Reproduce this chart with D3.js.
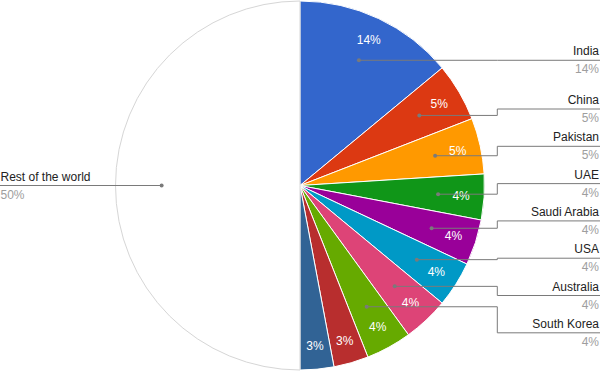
<!DOCTYPE html>
<html>
<head>
<meta charset="utf-8">
<script src="https://cdn.jsdelivr.net/npm/d3@7"></script>
<style>
  body { margin: 0; background: #fff; }
  text { font-family: Arial, "Liberation Sans", sans-serif; }
</style>
</head>
<body>
<div id="chart"></div>
<script>
// categories (the two smallest slices carry no label in the original)
const countries = ["India", "China", "Pakistan", "UAE", "Saudi Arabia", "USA",
                   "Australia", "South Korea", "", "", "Rest of the world"];
const shares = [14, 5.1, 4.9, 4, 4, 4, 4, 4, 3.05, 2.95, 50];
const colors = ["#3366cc", "#dc3912", "#ff9900", "#109618", "#990099", "#0099c6",
                "#dd4477", "#66aa00", "#b82e2e", "#316395", "#ffffff"];

const width = 600;
const height = 371;
const cx = 300, cy = 185.5, radius = 184.5;

const data = countries.map((c, i) => ({ name: c, value: shares[i], color: colors[i] }));

const svg = d3.select("#chart").append("svg")
    .attr("width", width)
    .attr("height", height);

const g = svg.append("g")
    .attr("transform", `translate(${cx}, ${cy})`);

const pie = d3.pie()
    .sort(null)
    .value(d => d.value);

const arc = d3.arc()
    .innerRadius(0)
    .outerRadius(radius);

const labelArc = d3.arc()
    .innerRadius(radius * 0.875)
    .outerRadius(radius * 0.875);

const dotArc = d3.arc()
    .innerRadius(radius * 0.75)
    .outerRadius(radius * 0.75);

const arcs = pie(data);

g.selectAll("path.slice").data(arcs)
  .enter().append("path")
    .attr("class", "slice")
    .attr("d", arc)
    .attr("fill", d => d.data.color)
    .attr("stroke", d => d.data.color === "#ffffff" ? "#d6d6d6" : "#ffffff")
    .attr("stroke-width", 1);

const fmt = v => Math.round(v) + "%";

// percentage inside the coloured slices
g.selectAll("text.pct").data(arcs.filter(d => d.data.color !== "#ffffff"))
  .enter().append("text")
    .attr("class", "pct")
    .attr("transform", d => `translate(${labelArc.centroid(d)})`)
    .attr("dy", "0.35em")
    .attr("text-anchor", "middle")
    .attr("fill", "#fff")
    .style("font-size", "12px")
    .text(d => fmt(d.data.value));

// labelled legend: right side labels spread with a fixed gap
const right = arcs.filter(d => d.data.name && (d.startAngle + d.endAngle) / 2 < Math.PI);
const left = arcs.filter(d => d.data.name && (d.startAngle + d.endAngle) / 2 >= Math.PI);

const gap = 37.3;
const dots = right.map(d => dotArc.centroid(d)[1] + cy);
// pool adjacent violators so labels keep order and spacing
let blocks = [];
dots.forEach((y, i) => {
  blocks.push({ sum: y - i * gap, n: 1 });
  while (blocks.length > 1 &&
         blocks[blocks.length - 2].sum / blocks[blocks.length - 2].n >
         blocks[blocks.length - 1].sum / blocks[blocks.length - 1].n) {
    const b = blocks.pop();
    blocks[blocks.length - 1].sum += b.sum;
    blocks[blocks.length - 1].n += b.n;
  }
});
const lineY = [];
blocks.forEach(b => { for (let k = 0; k < b.n; k++) lineY.push(b.sum / b.n); });
lineY.forEach((z, i) => lineY[i] = z + i * gap);

const elbowX = 497.3;
const lineColor = "#7a7a7a";

const lg = svg.append("g");

right.forEach((d, i) => {
  const p = dotArc.centroid(d);
  const x0 = p[0] + cx, y0 = p[1] + cy, y1 = lineY[i];
  lg.append("path")
    .attr("d", `M${x0},${y0}H${elbowX}V${y1}H${width}`)
    .attr("fill", "none")
    .attr("stroke", lineColor)
    .attr("stroke-width", 1);
  lg.append("circle")
    .attr("cx", x0).attr("cy", y0).attr("r", 2)
    .attr("fill", lineColor);
  lg.append("text")
    .attr("x", 599).attr("y", y1 - 5)
    .attr("text-anchor", "end")
    .attr("fill", "#222")
    .style("font-size", "12px")
    .text(d.data.name);
  lg.append("text")
    .attr("x", 599).attr("y", y1 + 13)
    .attr("text-anchor", "end")
    .attr("fill", "#9e9e9e")
    .style("font-size", "12px")
    .text(fmt(d.data.value));
});

left.forEach(d => {
  const p = dotArc.centroid(d);
  const x0 = p[0] + cx, y0 = p[1] + cy;
  lg.append("path")
    .attr("d", `M${x0},${y0}H0`)
    .attr("fill", "none")
    .attr("stroke", lineColor)
    .attr("stroke-width", 1);
  lg.append("circle")
    .attr("cx", x0).attr("cy", y0).attr("r", 2)
    .attr("fill", lineColor);
  lg.append("text")
    .attr("x", 0.5).attr("y", y0 - 5)
    .attr("fill", "#222")
    .style("font-size", "12px")
    .text(d.data.name);
  lg.append("text")
    .attr("x", 0.5).attr("y", y0 + 13)
    .attr("fill", "#9e9e9e")
    .style("font-size", "12px")
    .text(fmt(d.data.value));
});
</script>
</body>
</html>
